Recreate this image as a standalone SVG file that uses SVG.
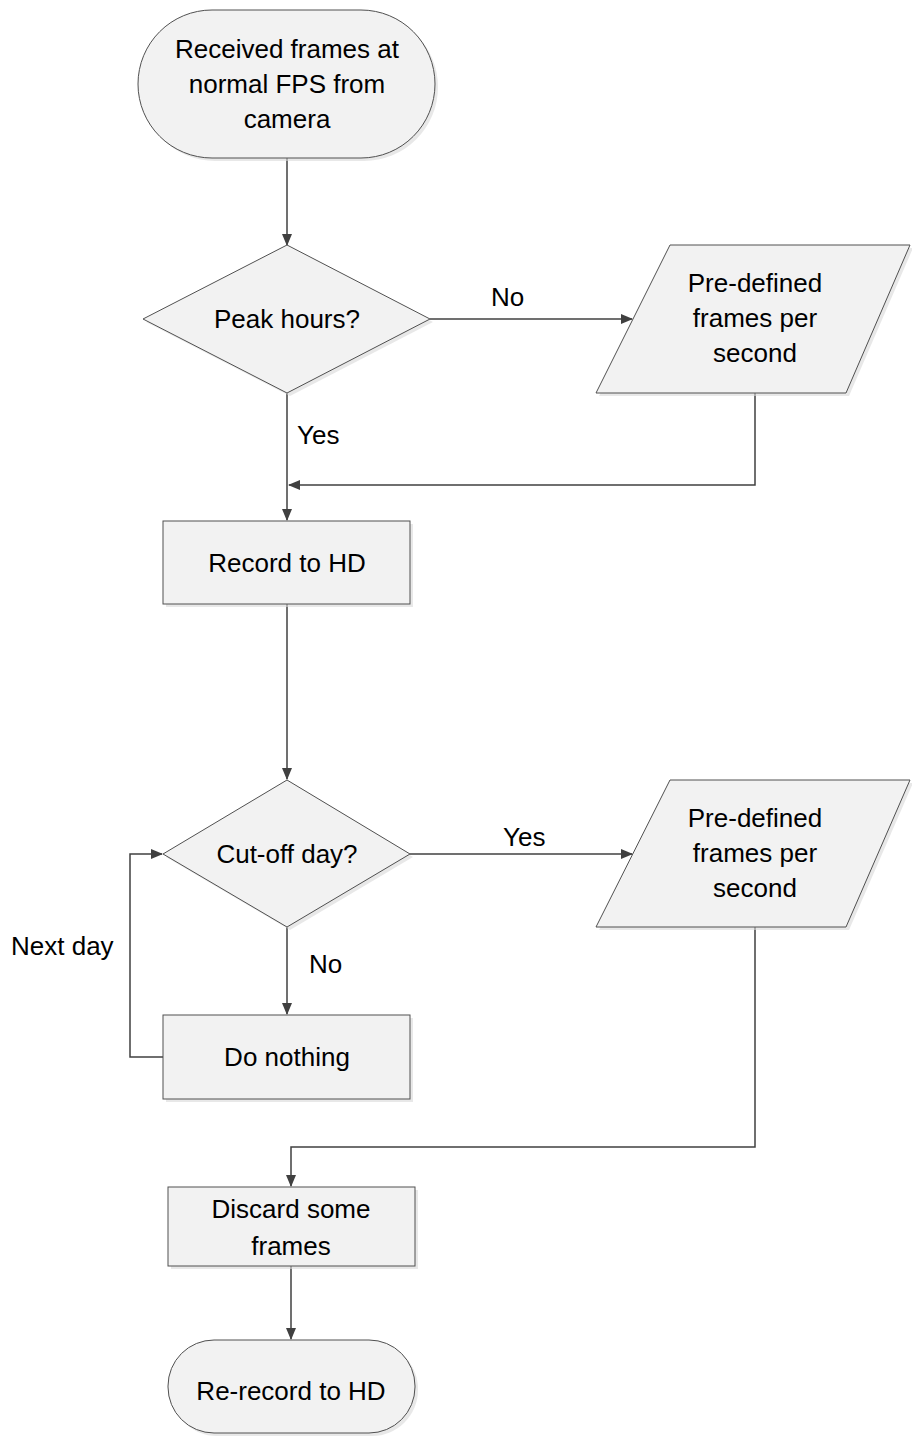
<svg xmlns="http://www.w3.org/2000/svg" width="912" height="1439" viewBox="0 0 912 1439">
<style>
.shape{fill:#f2f2f2;stroke:#505050;stroke-width:1}
.shadow{fill:#d9d9d9;stroke:none;opacity:0.6}
.t{font-family:"Liberation Sans",Arial,sans-serif;font-size:26px;fill:#000;text-anchor:middle}
.lbl{font-family:"Liberation Sans",Arial,sans-serif;font-size:26px;fill:#000}
.c{fill:none;stroke:#404040;stroke-width:1.5}
</style>
<defs>
<marker id="ah" markerWidth="12" markerHeight="12" refX="11" refY="6" orient="auto" markerUnits="userSpaceOnUse">
<path d="M0,1 L12,6 L0,11 Z" fill="#404040"/>
</marker>
</defs>
<rect width="912" height="1439" fill="#fff"/>
<g id="connectors">
<path class="c" d="M287,158 V245" marker-end="url(#ah)"/>
<path class="c" d="M430,319 H632" marker-end="url(#ah)"/>
<path class="c" d="M755,393 V485 H289" marker-end="url(#ah)"/>
<path class="c" d="M287,393 V520" marker-end="url(#ah)"/>
<path class="c" d="M287,604 V779" marker-end="url(#ah)"/>
<path class="c" d="M410,854 H632" marker-end="url(#ah)"/>
<path class="c" d="M287,927 V1014" marker-end="url(#ah)"/>
<path class="c" d="M163,1057 H130 V854 H162" marker-end="url(#ah)"/>
<path class="c" d="M755,927 V1147 H291 V1186" marker-end="url(#ah)"/>
<path class="c" d="M291,1266 V1339" marker-end="url(#ah)"/>
<text class="lbl" x="491" y="306">No</text>
<text class="lbl" x="297" y="444">Yes</text>
<text class="lbl" x="503" y="846">Yes</text>
<text class="lbl" x="309" y="973">No</text>
<text class="lbl" x="11" y="955">Next day</text>
</g>
<g id="start">
<rect class="shadow" x="141" y="13" width="297" height="148" rx="74"/>
<rect class="shape" x="138" y="10" width="297" height="148" rx="74"/>
<text class="t" x="287" y="58">Received frames at</text>
<text class="t" x="287" y="93">normal FPS from</text>
<text class="t" x="287" y="128">camera</text>
</g>
<g id="peak">
<polygon class="shadow" points="290,248 433,322 290,396 146,322"/>
<polygon class="shape" points="287,245 430,319 287,393 143,319"/>
<text class="t" x="287" y="328">Peak hours?</text>
</g>
<g id="fps1">
<polygon class="shadow" points="673,248 913,248 849,396 599,396"/>
<polygon class="shape" points="670,245 910,245 846,393 596,393"/>
<text class="t" x="755" y="292">Pre-defined</text>
<text class="t" x="755" y="327">frames per</text>
<text class="t" x="755" y="362">second</text>
</g>
<g id="record">
<rect class="shadow" x="166" y="524" width="247" height="83"/>
<rect class="shape" x="163" y="521" width="247" height="83"/>
<text class="t" x="287" y="572">Record to HD</text>
</g>
<g id="cutoff">
<polygon class="shadow" points="290,783 413,857 290,930 166,857"/>
<polygon class="shape" points="287,780 410,854 287,927 163,854"/>
<text class="t" x="287" y="863">Cut-off day?</text>
</g>
<g id="fps2">
<polygon class="shadow" points="673,783 913,783 849,930 599,930"/>
<polygon class="shape" points="670,780 910,780 846,927 596,927"/>
<text class="t" x="755" y="827">Pre-defined</text>
<text class="t" x="755" y="862">frames per</text>
<text class="t" x="755" y="897">second</text>
</g>
<g id="nothing">
<rect class="shadow" x="166" y="1018" width="247" height="84"/>
<rect class="shape" x="163" y="1015" width="247" height="84"/>
<text class="t" x="287" y="1066">Do nothing</text>
</g>
<g id="discard">
<rect class="shadow" x="171" y="1190" width="247" height="79"/>
<rect class="shape" x="168" y="1187" width="247" height="79"/>
<text class="t" x="291" y="1218">Discard some</text>
<text class="t" x="291" y="1255">frames</text>
</g>
<g id="end">
<rect class="shadow" x="171" y="1343" width="247" height="93" rx="46"/>
<rect class="shape" x="168" y="1340" width="247" height="93" rx="46"/>
<text class="t" x="291" y="1400">Re-record to HD</text>
</g>
</svg>
